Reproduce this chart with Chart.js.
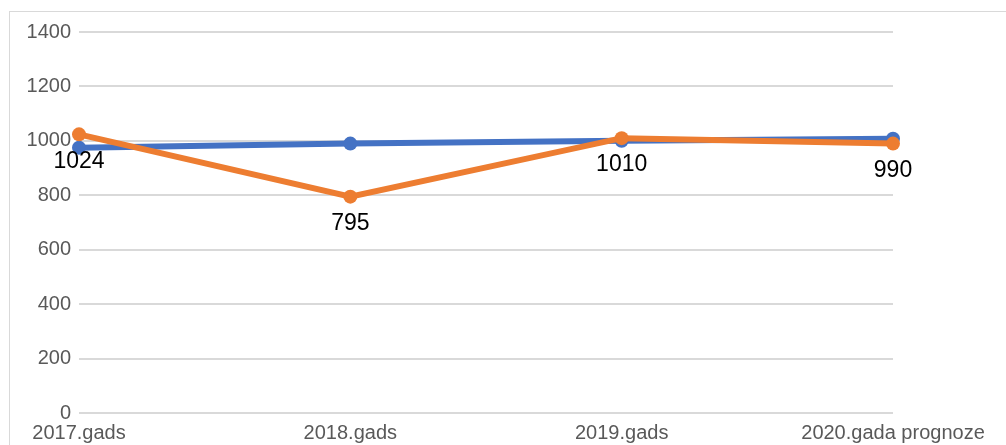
<!DOCTYPE html>
<html>
<head>
<meta charset="utf-8">
<style>
  html, body { margin: 0; padding: 0; background: #fff; }
  #wrap { width: 1006px; height: 445px; position: relative; }
</style>
<script src="https://cdn.jsdelivr.net/npm/chart.js@4/dist/chart.umd.min.js"></script>
</head>
<body>
<div id="wrap"><canvas id="chart" width="1006" height="445"></canvas></div>
<script>
const categories = ['2017.gads', '2018.gads', '2019.gads', '2020.gada prognoze'];
const blueValues = [975, 990, 1000, 1008];
const orangeValues = [1024, 795, 1010, 990];
const yTicks = [0, 200, 400, 600, 800, 1000, 1200, 1400];

// frame round the chart, like the office export
const framePlugin = {
  id: 'frame',
  beforeDraw(chart) {
    const ctx = chart.ctx;
    ctx.save();
    ctx.strokeStyle = '#d9d9d9';
    ctx.lineWidth = 1;
    ctx.strokeRect(9.5, 11.5, 1010, 450);
    ctx.restore();
  }
};

// value labels under the orange points
const valueLabels = {
  id: 'valueLabels',
  afterDatasetsDraw(chart) {
    const ctx = chart.ctx;
    const meta = chart.getDatasetMeta(0);
    ctx.save();
    ctx.font = '23px "Liberation Sans", Arial, sans-serif';
    ctx.fillStyle = '#000';
    ctx.textAlign = 'center';
    ctx.textBaseline = 'middle';
    meta.data.forEach((pt, i) => {
      ctx.fillText(String(orangeValues[i]), pt.x, pt.y + 27);
    });
    ctx.restore();
  }
};

const ctx = document.getElementById('chart').getContext('2d');

new Chart(ctx, {
  type: 'line',
  data: {
    labels: categories,
    datasets: [
      {
        label: 'Prognoze',
        data: orangeValues,
        borderColor: '#ED7D31',
        backgroundColor: '#ED7D31',
        borderWidth: 6,
        pointRadius: 7,
        pointBorderWidth: 0,
        tension: 0,
        order: 0
      },
      {
        label: 'Fakts',
        data: blueValues,
        borderColor: '#4472C4',
        backgroundColor: '#4472C4',
        borderWidth: 6,
        pointRadius: 7,
        pointBorderWidth: 0,
        tension: 0,
        order: 1
      }
    ]
  },
  options: {
    responsive: false,
    animation: false,
    layout: {
      padding: { top: 32, right: 113, bottom: 0, left: 10 }
    },
    scales: {
      x: {
        offset: false,
        grid: { display: false },
        border: { display: false },
        ticks: {
          color: '#595959',
          font: { family: '"Liberation Sans", Arial, sans-serif', size: 20 },
          maxRotation: 0,
          padding: 0
        }
      },
      y: {
        min: 0,
        max: 1400,
        afterBuildTicks(axis) {
          axis.ticks = yTicks.map(v => ({ value: v }));
        },
        afterFit(axis) {
          axis.width = 69;
        },
        grid: { color: '#d9d9d9', lineWidth: 2, drawTicks: false },
        border: { display: false },
        ticks: {
          color: '#595959',
          font: { family: '"Liberation Sans", Arial, sans-serif', size: 20 },
          padding: 8,
          callback: v => String(v)
        }
      }
    },
    plugins: {
      legend: { display: false },
      tooltip: { enabled: false }
    }
  },
  plugins: [framePlugin, valueLabels]
});
</script>
</body>
</html>
